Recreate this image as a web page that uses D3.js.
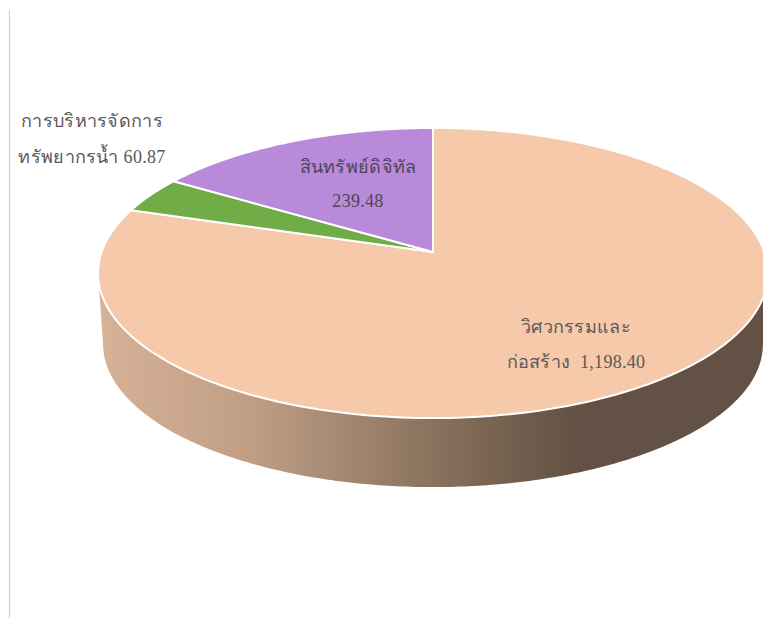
<!DOCTYPE html>
<html lang="th">
<head>
<meta charset="utf-8">
<script src="https://cdnjs.cloudflare.com/ajax/libs/d3/7.9.0/d3.min.js"></script>
<style>
html,body{margin:0;padding:0;background:#fff;overflow:hidden}
svg{display:block}
text{font-family:"Liberation Serif","Noto Sans",serif;font-size:18px;text-anchor:middle;letter-spacing:.3px;white-space:pre}
</style>
</head>
<body>
<div id="chart"></div>
<script>
// Spending by category, drawn clockwise from twelve o'clock
const categories = ["วิศวกรรมและก่อสร้าง", "การบริหารจัดการทรัพยากรน้ำ", "สินทรัพย์ดิจิทัล"];
const values = [1198.40, 60.87, 239.48];
const valueLabels = ["1,198.40", "60.87", "239.48"];
const sliceColors = ["#f5c9aa", "#70ad47", "#b88ad9"];
const labelLines = [
  ["วิศวกรรมและ", "ก่อสร้าง  1,198.40"],
  ["การบริหารจัดการ", "ทรัพยากรน้ำ 60.87"],
  ["สินทรัพย์ดิจิทัล", "239.48"]
];
const labelAnchors = [[576, 333, 368], [92, 127, 163], [358, 173, 207]];
const labelColors = ["#595959", "#595959", "#4d4558"];

const width = 763, height = 618;
const svg = d3.select("#chart").append("svg").attr("width", width).attr("height", height);

// Tilted disc: a circle seen in perspective, with the near side larger
const centerX = 433, centerY = 252, radiusX = 331.4, radiusY = 142, tilt = 0.145;
const wallDrop = 71.5, wallShrink = 0.985;

function project(angle, shrink = 1, drop = 0) {
  const u = Math.sin(angle), v = Math.cos(angle), w = 1 + tilt * v;
  return [centerX + shrink * radiusX * u / w, centerY + drop - shrink * radiusY * v / w];
}
const rimPath = d3.line().curve(d3.curveLinear);
const sweep = (a0, a1, shrink, drop) =>
  d3.range(0, 241).map(i => project(a0 + (a1 - a0) * i / 240, shrink, drop));

// Side wall shading runs left to right across the front of the disc
const defs = svg.append("defs");
const wallFill = defs.append("linearGradient").attr("id", "wallFill")
  .attr("gradientUnits", "userSpaceOnUse")
  .attr("x1", 98).attr("x2", 763).attr("y1", 0).attr("y2", 0);
[[0, "#d6b297"], [0.23, "#c09e84"], [0.42, "#9a806a"], [0.57, "#7d6754"], [0.72, "#625144"], [1, "#625144"]]
  .forEach(([o, c]) => wallFill.append("stop").attr("offset", o).attr("stop-color", c));

// Thin frame rule down the left side
svg.append("line").attr("x1", 9.5).attr("x2", 9.5).attr("y1", 10).attr("y2", height)
  .attr("stroke", "#d0d0d0").attr("stroke-width", 1.2);

// The widest points of the rim sit slightly toward the viewer
const sideAngle = Math.PI - Math.acos(tilt);
const wallOutline = sweep(sideAngle, 2 * Math.PI - sideAngle, 1, 0)
  .concat(sweep(2 * Math.PI - sideAngle, sideAngle, wallShrink, wallDrop));
svg.append("path").attr("d", rimPath(wallOutline) + "Z").attr("fill", "url(#wallFill)");

// Top face slices
const pie = d3.pie().sort(null)(values);
svg.selectAll("path.slice").data(pie).join("path")
  .attr("class", "slice")
  .attr("d", d => rimPath([[centerX, centerY], ...sweep(d.startAngle, d.endAngle, 1, 0)]) + "Z")
  .attr("fill", (d, i) => sliceColors[i])
  .attr("stroke", "#fff").attr("stroke-width", 2).attr("stroke-linejoin", "round");

// Two-line data labels
const labels = svg.selectAll("g.label").data(labelLines).join("g").attr("class", "label");
labels.each(function (lines, i) {
  const [x, y0, y1] = labelAnchors[i];
  d3.select(this).selectAll("text").data(lines).join("text")
    .attr("x", x).attr("y", (d, j) => j === 0 ? y0 : y1)
    .attr("fill", labelColors[i]).text(d => d);
});
</script>
</body>
</html>
